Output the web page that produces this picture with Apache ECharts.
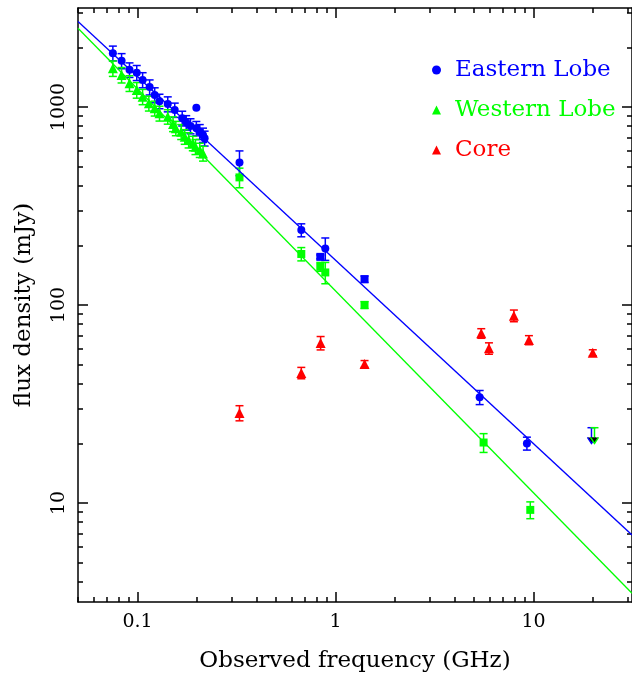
<!DOCTYPE html>
<html>
<head>
<meta charset="utf-8">
<title>flux density</title>
<script src="https://cdn.jsdelivr.net/npm/echarts@6/dist/echarts.min.js"></script>
<style>
  html, body { margin: 0; padding: 0; background: #fff; }
  #main { width: 632px; height: 684px; }
</style>
</head>
<body>
<div id="main"></div>
<script>
// all values: [frequency GHz, flux mJy, error mJy]
var eastCircles = [
  [0.075, 1870, 160], [0.083, 1710, 150], [0.091, 1540, 130], [0.099, 1490, 130],
  [0.106, 1370, 120], [0.115, 1260, 110], [0.122, 1150, 100], [0.129, 1070, 90],
  [0.142, 1035, 90], [0.154, 966, 80], [0.168, 877, 75], [0.176, 834, 70],
  [0.185, 802, 70], [0.198, 780, 65], [0.206, 750, 65], [0.214, 722, 60],
  [0.218, 695, 60], [0.198, 990, 0], [0.327, 525, 75], [0.671, 239, 18],
  [0.887, 193, 25], [5.34, 34.2, 2.8], [9.25, 20.0, 1.5]
];
var eastSquares = [[0.837, 175, 4], [1.40, 135, 5]];
var westTriangles = [
  [0.075, 1567, 140], [0.083, 1452, 130], [0.091, 1318, 120], [0.099, 1218, 110],
  [0.106, 1127, 100], [0.114, 1044, 90], [0.122, 985, 85], [0.129, 929, 80],
  [0.142, 894, 75], [0.151, 821, 70], [0.156, 781, 65], [0.166, 750, 65],
  [0.173, 708, 60], [0.181, 681, 60], [0.190, 656, 55], [0.196, 630, 55],
  [0.206, 606, 50], [0.214, 583, 50]
];
var westSquares = [
  [0.327, 441, 50], [0.671, 181, 14], [0.837, 156, 8], [0.887, 146, 18],
  [1.40, 100, 4], [5.59, 20.2, 2.2], [9.62, 9.23, 0.9]
];
var coreTriangles = [
  [0.327, 28.5, 2.5], [0.671, 45.4, 3], [0.84, 64.3, 5], [1.40, 50.4, 2],
  [5.44, 71.9, 4], [5.95, 60.4, 4], [7.95, 88.3, 6], [9.47, 66.5, 3.5], [19.9, 57.4, 2]
];
// upper limits: [frequency, limit, arrow tip]
var eastLimits = [[19.6, 24, 20]];
var westLimits = [[20.3, 24, 20]];
// fitted power laws, end points at the frame
var eastFit = [[0.05, 2700], [31.4, 6.9]];
var westFit = [[0.05, 2500], [31.4, 3.5]];

var xMajor = [0.1, 1, 10];
var xMinor = [0.05, 0.06, 0.07, 0.08, 0.09, 0.2, 0.3, 0.4, 0.5, 0.6, 0.7, 0.8, 0.9,
  2, 3, 4, 5, 6, 7, 8, 9, 20, 30];
var yMajor = [10, 100, 1000];
var yMinor = [4, 5, 6, 7, 8, 9, 20, 30, 40, 50, 60, 70, 80, 90,
  200, 300, 400, 500, 600, 700, 800, 900, 2000, 3000];

var BLUE = '#0000ff', GREEN = '#00ff00', RED = '#ff0000';
var FONT = 'DejaVu Serif';

function pts(rows) { return rows.map(function (r) { return [r[0], r[1]]; }); }
function bars(rows) {
  return rows.filter(function (r) { return r[2] > 0; })
    .map(function (r) { return [r[0], r[1] - r[2], r[1] + r[2]]; });
}

function errorBars(color) {
  return function (params, api) {
    var f = api.value(0);
    var lo = api.coord([f, api.value(1)]);
    var hi = api.coord([f, api.value(2)]);
    var w = 4;
    var st = { stroke: color, lineWidth: 1.5 };
    return {
      type: 'group',
      children: [
        { type: 'line', shape: { x1: lo[0], y1: lo[1], x2: hi[0], y2: hi[1] }, style: st },
        { type: 'line', shape: { x1: lo[0] - w, y1: lo[1], x2: lo[0] + w, y2: lo[1] }, style: st },
        { type: 'line', shape: { x1: hi[0] - w, y1: hi[1], x2: hi[0] + w, y2: hi[1] }, style: st }
      ]
    };
  };
}

function limitArrows(color) {
  return function (params, api) {
    var f = api.value(0);
    var top = api.coord([f, api.value(1)]);
    var tip = api.coord([f, api.value(2)]);
    var st = { stroke: color, lineWidth: 1.5 };
    return {
      type: 'group',
      children: [
        { type: 'line', shape: { x1: top[0], y1: top[1], x2: tip[0], y2: tip[1] }, style: st },
        { type: 'line', shape: { x1: top[0] - 4, y1: top[1], x2: top[0] + 4, y2: top[1] }, style: st },
        { type: 'polyline', shape: { points: [[tip[0] - 4, tip[1] - 6], [tip[0], tip[1]], [tip[0] + 4, tip[1] - 6]] }, style: st }
      ]
    };
  };
}

function xAxisOf(pos, ticks, len, main) {
  return {
    type: 'log', logBase: 10, min: 0.05, max: 31.4, position: pos,
    splitLine: { show: false },
    axisLine: { show: main, lineStyle: { color: '#000', width: 1.5 } },
    axisTick: { show: true, inside: true, length: len, customValues: ticks,
      lineStyle: { color: '#000', width: 1.5 } },
    axisLabel: pos === 'bottom' && main ? {
      show: true, customValues: xMajor, margin: 11, color: '#000',
      fontFamily: FONT, fontSize: 19,
      formatter: function (v) { return v < 1 ? v.toFixed(1) : String(Math.round(v)); }
    } : { show: false },
    name: pos === 'bottom' && main ? 'Observed frequency (GHz)' : '',
    nameLocation: 'middle', nameGap: 48,
    nameTextStyle: { fontFamily: FONT, fontSize: 23, color: '#000' }
  };
}

function yAxisOf(pos, ticks, len, main) {
  return {
    type: 'log', logBase: 10, min: 3.162, max: 3162, position: pos,
    splitLine: { show: false },
    axisLine: { show: main, lineStyle: { color: '#000', width: 1.5 } },
    axisTick: { show: true, inside: true, length: len, customValues: ticks,
      lineStyle: { color: '#000', width: 1.5 } },
    axisLabel: pos === 'left' && main ? {
      show: true, customValues: yMajor, rotate: 90, margin: 9, color: '#000',
      fontFamily: FONT, fontSize: 19,
      formatter: function (v) { return String(Math.round(v)); }
    } : { show: false },
    name: pos === 'left' && main ? 'flux density (mJy)' : '',
    nameLocation: 'middle', nameGap: 42, nameRotate: 90,
    nameTextStyle: { fontFamily: FONT, fontSize: 23, color: '#000' }
  };
}

var chart = echarts.init(document.getElementById('main'));

var option = {
  animation: false,
  grid: { left: 78, top: 8, width: 554, height: 594 },
  legend: {
    orient: 'vertical', left: 427, top: 52, itemGap: 14,
    itemWidth: 9, itemHeight: 9,
    textStyle: { fontFamily: FONT, fontSize: 23, lineHeight: 26, padding: [0, 0, 0, 9] },
    data: [
      { name: 'Eastern Lobe', icon: 'circle', itemStyle: { color: BLUE }, textStyle: { color: BLUE } },
      { name: 'Western Lobe', icon: 'triangle', itemStyle: { color: GREEN }, textStyle: { color: GREEN } },
      { name: 'Core', icon: 'triangle', itemStyle: { color: RED }, textStyle: { color: RED } }
    ]
  },
  xAxis: [
    xAxisOf('bottom', xMajor, 10, true),
    xAxisOf('bottom', xMinor, 5, false),
    xAxisOf('top', xMajor, 10, true),
    xAxisOf('top', xMinor, 5, false)
  ],
  yAxis: [
    yAxisOf('left', yMajor, 10, true),
    yAxisOf('left', yMinor, 5, false),
    yAxisOf('right', yMajor, 10, true),
    yAxisOf('right', yMinor, 5, false)
  ],
  series: [
    { name: 'east fit', type: 'line', data: eastFit, showSymbol: false, silent: true,
      lineStyle: { color: BLUE, width: 1.3 } },
    { name: 'west fit', type: 'line', data: westFit, showSymbol: false, silent: true,
      lineStyle: { color: GREEN, width: 1.3 } },
    { name: 'Eastern Lobe', type: 'custom', renderItem: errorBars(BLUE),
      data: bars(eastCircles.concat(eastSquares)), encode: { x: 0, y: [1, 2] }, silent: true },
    { name: 'Western Lobe', type: 'custom', renderItem: errorBars(GREEN),
      data: bars(westTriangles.concat(westSquares)), encode: { x: 0, y: [1, 2] }, silent: true },
    { name: 'Core', type: 'custom', renderItem: errorBars(RED),
      data: bars(coreTriangles), encode: { x: 0, y: [1, 2] }, silent: true },
    { name: 'Eastern Lobe', type: 'custom', renderItem: limitArrows(BLUE),
      data: eastLimits, encode: { x: 0, y: [1, 2] }, silent: true },
    { name: 'Western Lobe', type: 'custom', renderItem: limitArrows(GREEN),
      data: westLimits, encode: { x: 0, y: [1, 2] }, silent: true },
    { name: 'Eastern Lobe', type: 'scatter', symbol: 'circle', symbolSize: 8,
      itemStyle: { color: BLUE, opacity: 1 }, data: pts(eastCircles) },
    { name: 'Eastern Lobe', type: 'scatter', symbol: 'rect', symbolSize: 8,
      itemStyle: { color: BLUE, opacity: 1 }, data: pts(eastSquares) },
    { name: 'Western Lobe', type: 'scatter', symbol: 'triangle', symbolSize: 10,
      itemStyle: { color: GREEN, opacity: 1 }, data: pts(westTriangles) },
    { name: 'Western Lobe', type: 'scatter', symbol: 'rect', symbolSize: 8,
      itemStyle: { color: GREEN, opacity: 1 }, data: pts(westSquares) },
    { name: 'Core', type: 'scatter', symbol: 'triangle', symbolSize: 10,
      itemStyle: { color: RED, opacity: 1 }, data: pts(coreTriangles) }
  ]
};

chart.setOption(option);
</script>
</body>
</html>
